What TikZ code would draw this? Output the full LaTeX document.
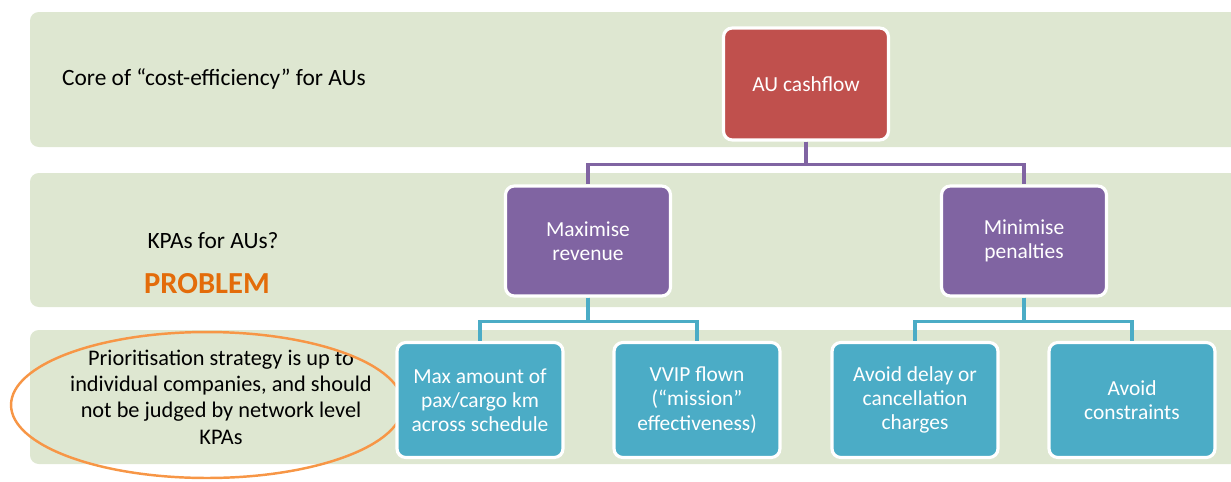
\documentclass[tikz,border=0pt]{standalone}
\usepackage{fontspec}
\setmainfont{Carlito}
\usepackage{xcolor}
\usetikzlibrary{positioning}

\definecolor{bandgreen}{HTML}{DEE7D1}
\definecolor{cashred}{HTML}{C0504D}
\definecolor{kpapurple}{HTML}{8064A2}
\definecolor{leafteal}{HTML}{4BACC6}
\definecolor{probtext}{HTML}{E36C0A}
\definecolor{ringorange}{HTML}{F79646}

\begin{document}
\begin{tikzpicture}[
  x=0.02cm, y=-0.02cm,
  band/.style={fill=bandgreen, rounded corners=5pt},
  box/.style={draw=white, line width=1.8pt, rounded corners=5pt, text=white,
              align=center, font=\fontsize{12.2}{13.8}\selectfont, inner sep=2pt},
  topbox/.style={box, fill=cashred, minimum width=3.3cm, minimum height=2.24cm},
  midbox/.style={box, fill=kpapurple, minimum width=3.3cm, minimum height=2.2cm},
  leafbox/.style={box, fill=leafteal, minimum width=3.32cm, minimum height=2.3cm},
  lbl/.style={font=\fontsize{13.3}{15}\selectfont, text=black},
  tree/.style={line width=2pt},
]
\useasboundingbox (0,0) rectangle (1231,481);

% background bands
\fill[band] (30,12) rectangle (1250,147);
\fill[band] (30,173) rectangle (1250,307);
\fill[band] (30,330) rectangle (1250,464);

% left hand labels
\node[lbl, anchor=west] (core) at (56,79) {Core of “cost-efficiency” for AUs};
\node[lbl] (kpa) at (213,241) {KPAs for AUs?};
\node[font=\fontsize{17.4}{19}\selectfont\bfseries, text=probtext] (problem) at (207,284) {PROBLEM};
\node[align=center, font=\fontsize{12.7}{15}\selectfont] (strategy) at (221,397)
  {Prioritisation strategy is up to\\individual companies, and should\\not be judged by network level\\KPAs};
\draw[ringorange, line width=1.4pt] (207,405) ellipse [x radius=3.92cm, y radius=1.46cm];

% tree
\node[topbox] (cash) at (806,84) {AU cashflow};
\node[midbox] (maxrev) at (588,241) {Maximise\\revenue};
\node[midbox] (minpen) at (1024,241) {Minimise\\penalties};

\node[leafbox] (pax)    at (480,400)  {Max amount of\\pax/cargo km\\across schedule};
\node[leafbox] (vvip)   at (697,400)  {VVIP flown\\(“mission”\\effectiveness)};
\node[leafbox] (delay)  at (915,400)  {Avoid delay or\\cancellation\\charges};
\node[leafbox] (constr) at (1132,400) {Avoid\\constraints};

\foreach \p/\c in {cash/maxrev, cash/minpen}{ \draw[tree, kpapurple] (\p.south) -- ++(0,23) -| (\c.north); }
\foreach \p/\c in {maxrev/pax, maxrev/vvip, minpen/delay, minpen/constr}{ \draw[tree, leafteal] (\p.south) -- ++(0,24) -| (\c.north); }
\end{tikzpicture}
\end{document}
